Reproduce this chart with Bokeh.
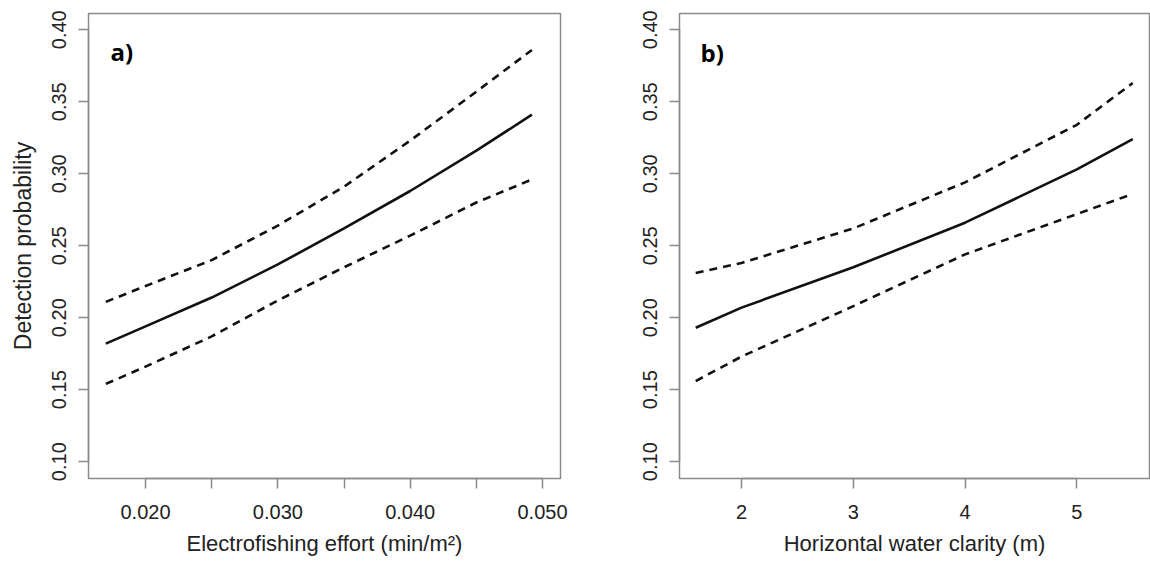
from bokeh.plotting import figure
from bokeh.layouts import row
from bokeh.models import Range1d, FixedTicker, Label, CustomJSTickFormatter
from bokeh.embed import file_html
from bokeh.resources import INLINE

# ---- data ----
effort = [0.017, 0.020, 0.025, 0.030, 0.035, 0.040, 0.045, 0.0492]
effort_fit = [0.182, 0.194, 0.214, 0.237, 0.262, 0.288, 0.316, 0.341]
effort_upper = [0.211, 0.222, 0.240, 0.264, 0.291, 0.323, 0.357, 0.386]
effort_lower = [0.154, 0.166, 0.187, 0.212, 0.235, 0.257, 0.280, 0.296]

clarity = [1.59, 2.0, 3.0, 4.0, 5.0, 5.50]
clarity_fit = [0.193, 0.207, 0.235, 0.266, 0.303, 0.324]
clarity_upper = [0.231, 0.238, 0.262, 0.294, 0.334, 0.363]
clarity_lower = [0.156, 0.173, 0.208, 0.244, 0.272, 0.286]

y_ticks = [0.10, 0.15, 0.20, 0.25, 0.30, 0.35, 0.40]
x_ticks_a = [0.020, 0.025, 0.030, 0.035, 0.040, 0.045, 0.050]
x_ticks_b = [2, 3, 4, 5]

FONT = "Liberation Sans"
TXT = "#222222"
GREY = "#8a8a8a"
H = 558


def style(p, xticks, xbounds):
    p.outline_line_color = GREY
    p.outline_line_width = 1.5
    p.grid.visible = False
    for ax in (p.xaxis[0], p.yaxis[0]):
        ax.axis_line_color = GREY
        ax.axis_line_width = 1.5
        ax.major_tick_line_color = GREY
        ax.major_tick_line_width = 1.5
        ax.major_tick_out = 10
        ax.major_tick_in = 0
        ax.minor_tick_line_color = None
        ax.major_label_text_font = FONT
        ax.major_label_text_font_size = "20px"
        ax.major_label_text_color = TXT
        ax.axis_label_text_font = FONT
        ax.axis_label_text_font_size = "22px"
        ax.axis_label_text_font_style = "normal"
        ax.axis_label_text_color = TXT
    p.yaxis[0].ticker = FixedTicker(ticks=y_ticks)
    p.yaxis[0].bounds = (0.10, 0.40)
    p.yaxis[0].major_label_orientation = "vertical"
    p.yaxis[0].major_label_standoff = 12
    p.yaxis[0].formatter = CustomJSTickFormatter(code="return tick.toFixed(2);")
    p.xaxis[0].ticker = FixedTicker(ticks=xticks)
    p.xaxis[0].bounds = xbounds
    p.xaxis[0].major_label_standoff = 16
    p.xaxis[0].axis_label_standoff = 9


def draw(p, x, fit, up, lo):
    p.line(x, fit, line_color="#111111", line_width=2.6)
    p.line(x, up, line_color="#111111", line_width=2.6, line_dash="8 6")
    p.line(x, lo, line_color="#111111", line_width=2.6, line_dash="8 6")


# ---- panel a ----
p1 = figure(width=600, height=H, output_backend="svg", toolbar_location=None,
            x_range=Range1d(0.01569, 0.05136), y_range=Range1d(0.0883, 0.4113),
            min_border_left=88, min_border_right=40, min_border_top=13,
            min_border_bottom=H - 483)
draw(p1, effort, effort_fit, effort_upper, effort_lower)
style(p1, x_ticks_a, (0.020, 0.050))
p1.xaxis[0].formatter = CustomJSTickFormatter(
    code="var m = {0.02:'0.020',0.03:'0.030',0.04:'0.040',0.05:'0.050'};"
         "var k = Math.round(tick*1000)/1000; return (k in m) ? m[k] : '';")
p1.xaxis[0].axis_label = "Electrofishing effort (min/m\u00b2)"
p1.yaxis[0].axis_label = "Detection probability"
p1.yaxis[0].axis_label_text_font_size = "23px"
p1.yaxis[0].axis_label_standoff = 14
p1.add_layout(Label(x=22, y=427, x_units="screen", y_units="screen", text="a)",
                    text_font="Open Sans", text_font_style="bold",
                    text_font_size="24px", text_color="#000000",
                    text_baseline="middle"))

# ---- panel b ----
p2 = figure(width=550, height=H, output_backend="svg", toolbar_location=None,
            x_range=Range1d(1.445, 5.65), y_range=Range1d(0.0883, 0.4113),
            min_border_left=79, min_border_right=1, min_border_top=11,
            min_border_bottom=H - 482)
draw(p2, clarity, clarity_fit, clarity_upper, clarity_lower)
style(p2, x_ticks_b, (2, 5))
p2.xaxis[0].axis_label = "Horizontal water clarity (m)"
p2.add_layout(Label(x=21, y=426, x_units="screen", y_units="screen", text="b)",
                    text_font="Open Sans", text_font_style="bold",
                    text_font_size="24px", text_color="#000000",
                    text_baseline="middle"))

layout = row(p1, p2)
open("out.html", "w").write(file_html(layout, INLINE))
